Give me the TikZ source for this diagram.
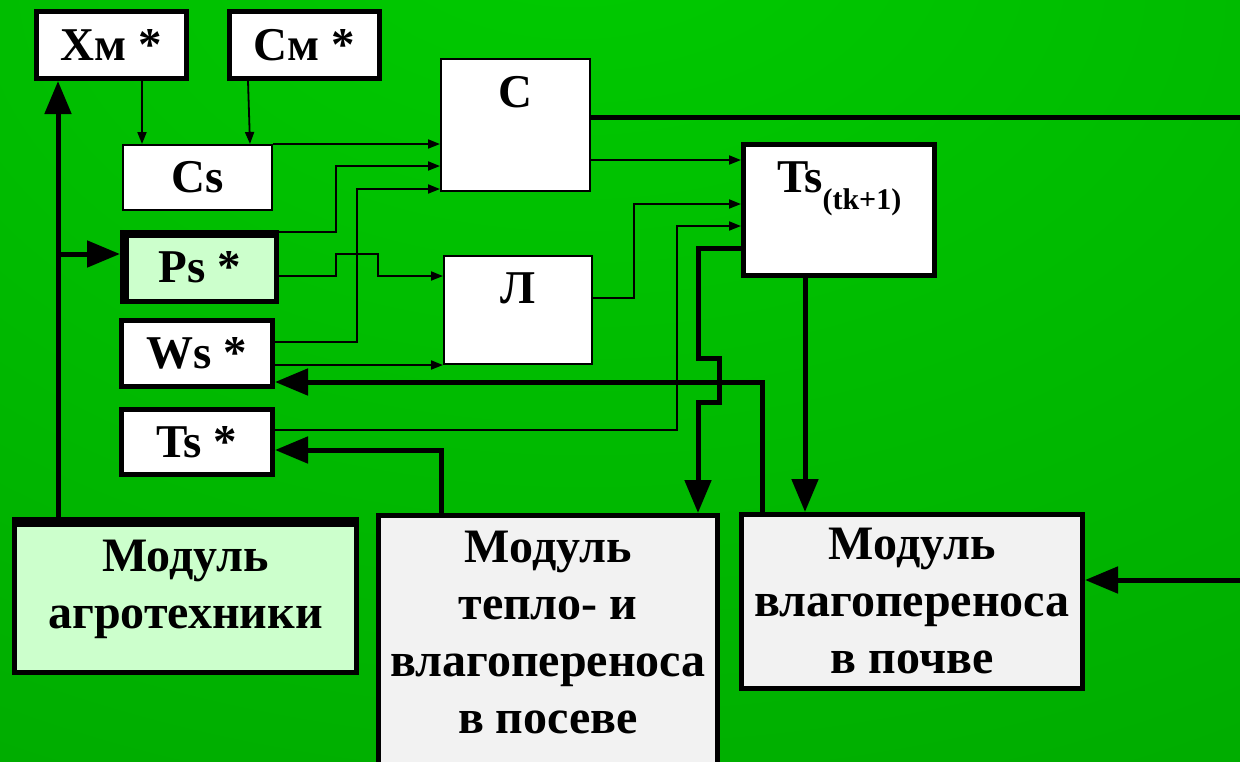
\documentclass[tikz,border=0pt]{standalone}
\usepackage{fontspec}
\setmainfont{Liberation Serif}
\usetikzlibrary{arrows.meta,calc}
\pgfdeclareradialshading{bgshade}{\pgfpoint{-2bp}{34bp}}{rgb(0bp)=(0,0.80,0); rgb(100bp)=(0,0.55,0)}
\definecolor{palegreen}{RGB}{204,255,204}
\definecolor{boxgray}{RGB}{242,242,242}
\begin{document}
\begin{tikzpicture}[x=1pt,y=-1pt,
  lbl/.style={font=\fontsize{47}{57}\selectfont\bfseries},
  biglbl/.style={font=\fontsize{48}{57}\selectfont\bfseries},
  thickbox/.style={draw=black, line width=5pt, fill=white, inner sep=0pt, lbl},
  thinbox/.style={draw=black, line width=2pt, fill=white, inner sep=0pt, lbl},
  txt/.style={inner sep=0pt, align=center, lbl},
  modtxt/.style={inner sep=0pt, align=center, biglbl},
  thinarr/.style={line width=1.8pt, -{Triangle[length=12pt,width=9pt]}},
  thickarr/.style={line width=5pt, -{Triangle[length=33pt,width=26pt]}},
  thickline/.style={line width=5pt}]
\useasboundingbox (0,0) rectangle (1240,761);
\clip (0,0) rectangle (1240,761);
\shade[shading=bgshade] (0,0) rectangle (1240,761);

% boxes
\node[thickbox, minimum width=150pt, minimum height=67pt] (xm) at (111.5,45) {Хм *};
\node[thickbox, minimum width=150pt, minimum height=67pt] (cm) at (304.5,45) {См *};
\node[thinbox, minimum width=149pt, minimum height=65pt] (cs) at (197.5,177.5) {Cs};
\node[thickbox, fill=palegreen, minimum width=154pt, minimum height=69pt] (ps) at (199.5,267) {Ps *};
\fill[black] (120,230) rectangle (129,304);
\fill[black] (120,230) rectangle (279,238);
\node[thickbox, minimum width=151pt, minimum height=66pt] (ws) at (197,353.5) {Ws *};
\node[thickbox, minimum width=151pt, minimum height=65pt] (ts) at (197,442) {Ts *};
\node[thinbox, minimum width=149pt, minimum height=132pt] (c) at (515.5,125) {};
\node[txt, anchor=base] (clab) at (515.5,107) {C};
\node[thinbox, minimum width=148pt, minimum height=108pt] (l) at (518,310) {};
\node[txt, anchor=base] (llab) at (518,303) {Л};
\node[thickbox, minimum width=191pt, minimum height=131pt] (tsn) at (839,210) {};
\node[txt, anchor=base west] (tslab) at (777,192) {Ts\raisebox{-17pt}{\fontsize{30}{30}\selectfont (tk+1)}};

\node[thickbox, fill=palegreen, minimum width=342pt, minimum height=153pt] (agro) at (185.5,596) {};
\fill[black] (12,517) rectangle (359,527);
\node[modtxt, anchor=north] (agrolab) at (185.5,540) {Модуль\\агротехники};
\node[thickbox, fill=boxgray, minimum width=339pt, minimum height=284.5pt] (teplo) at (548,657.75) {};
\node[modtxt, anchor=north] (teplolab) at (548,531) {Модуль\\тепло- и\\влагопереноса\\в посеве};
\node[thickbox, fill=boxgray, minimum width=341pt, minimum height=174pt] (vlag) at (912,601.5) {};
\node[modtxt, anchor=north] (vlaglab) at (912,528) {Модуль\\влагопереноса\\в почве};

\coordinate (edgeC) at (1245,117);
\coordinate (edgeV) at (1245,580);
\coordinate (br) at (58,254);

% thin connectors
\draw[thinarr] ([xshift=30.5pt]xm.south) -- ([xshift=30.5pt]xm.south |- cs.north);
\draw[thinarr] ([xshift=-56.5pt]cm.south) -- ([xshift=52.5pt]cs.north);
\draw[thinarr] (cs.north east) -- (cs.north east -| c.west);
\draw[thinarr] (ps.east |- 0,232) -| (336,166) -- (c.west |- 0,166);
\draw[thinarr] (ws.east |- 0,342) -| (357,189) -- (c.west |- 0,189);
\draw[thinarr] (ps.east |- 0,276) -- (336,276) |- (378,254) |- (l.west |- 0,276);
\draw[thinarr] (ws.east |- 0,365) -- (l.west |- 0,365);
\draw[thinarr] (c.east |- 0,160) -- (tsn.west |- 0,160);
\draw[thinarr] (l.east |- 0,298) -| (634,204) -- (tsn.west |- 0,204);
\draw[thinarr] (ts.east |- 0,430) -| (677,226) -- (tsn.west |- 0,226);

% thick connectors
\draw[thickline] (c.east |- 0,117) -- (edgeC);
\draw[thickarr] (tsn.west |- 0,248) -- (698,248) -- (698,358) -- (719,358) -- (719,402) -- (698,402) -- (teplo.north -| 698,0);
\draw[thickarr] (tsn.south -| 805,0) -- (vlag.north -| 805,0);
\draw[thickarr] (vlag.north -| 762,0) |- (ws.east |- 0,382);
\draw[thickarr] (teplo.north -| 441,0) |- (ts.east |- 0,450);
\draw[thickarr] (agro.north -| 58,0) -- (xm.south -| 58,0);
\draw[thickarr] (br) -- (ps.west |- br);
\draw[thickarr] (edgeV) -- (vlag.east |- edgeV);
\end{tikzpicture}
\end{document}
